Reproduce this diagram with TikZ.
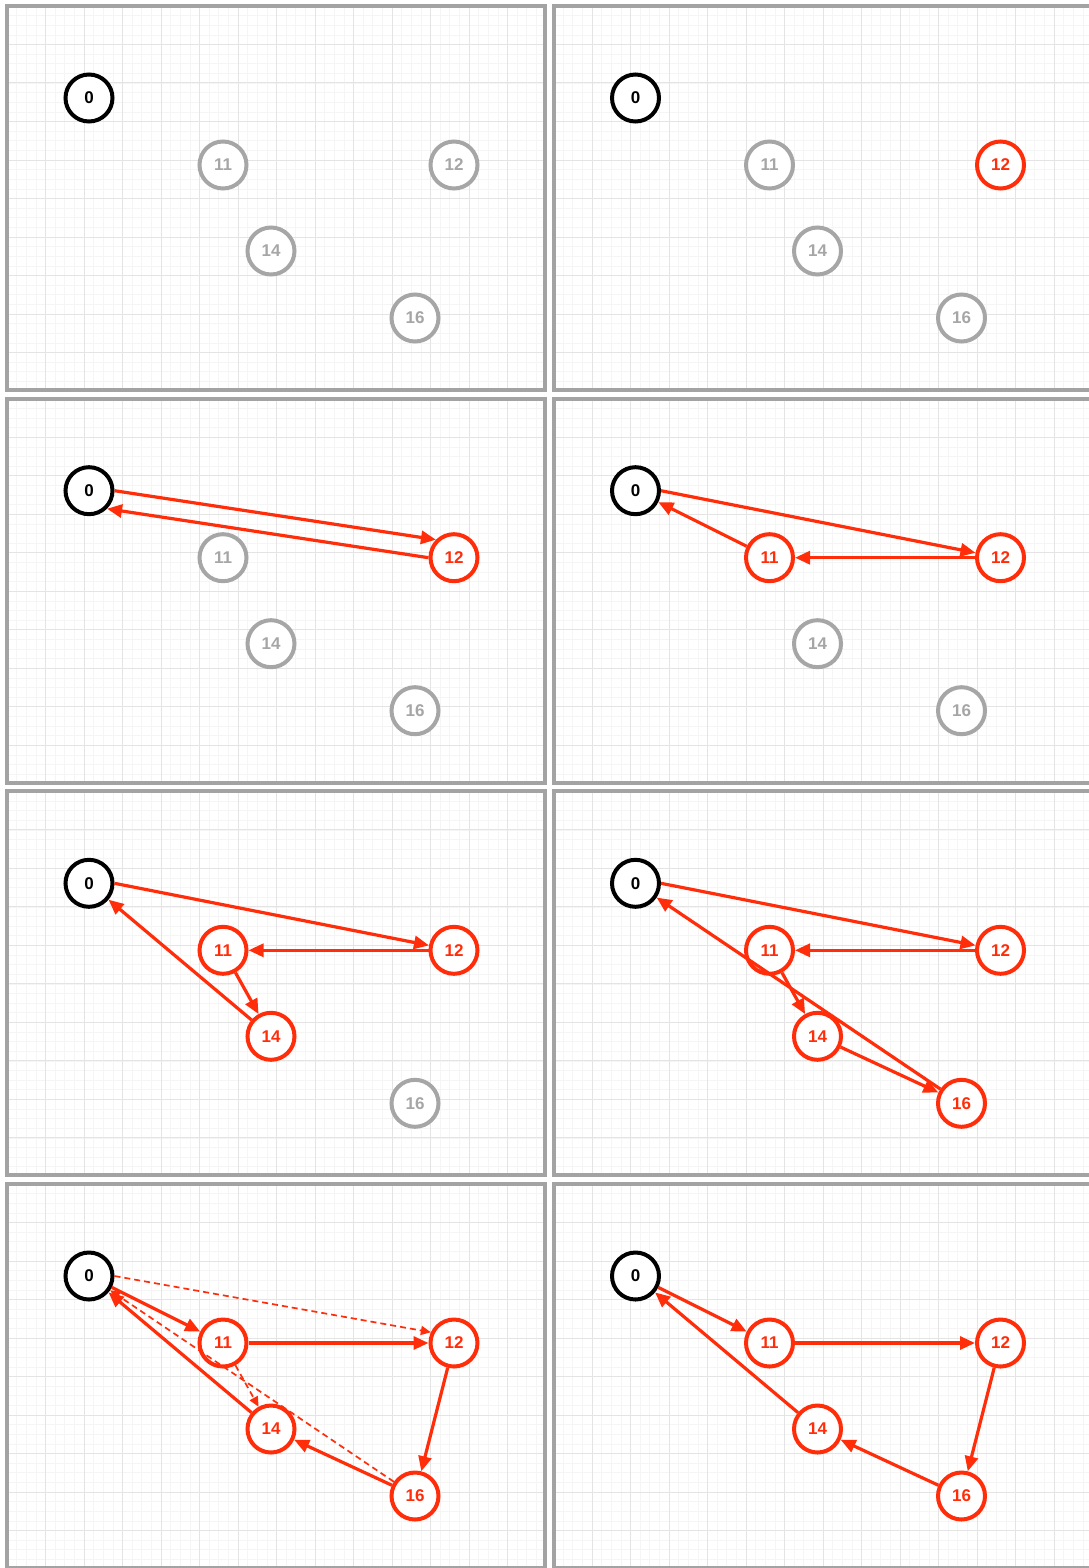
\documentclass[tikz,border=0pt]{standalone}
\usepackage{fontspec}
\setmainfont{Liberation Sans}
\usetikzlibrary{arrows.meta}

\definecolor{hotred}{HTML}{FF2D0A}
\definecolor{idlegray}{HTML}{A6A6A6}
\definecolor{framegray}{HTML}{A3A3A3}
\definecolor{majorgrid}{HTML}{E4E4E4}
\definecolor{minorgrid}{HTML}{F5F5F5}

% the five cities of one panel, one style each
\newcommand{\cities}[5]{%
  \node[city, #1] (n0)  at (82,92)   {0};
  \node[city, #2] (n11) at (216,159) {11};
  \node[city, #3] (n12) at (447,159) {12};
  \node[city, #4] (n14) at (264,245) {14};
  \node[city, #5] (n16) at (408,312) {16};
}

% grid paper and frame of one panel
\newcommand{\sheet}{%
  \fill[white] (0,0) rectangle (538,384);
  \foreach \k in {1,...,55} \draw[minorline] ({\k*9.625},0) -- ({\k*9.625},384);
  \foreach \k in {1,...,39} \draw[minorline] (0,{\k*9.625}) -- (538,{\k*9.625});
  \foreach \k in {1,...,13} \draw[majorline] ({\k*38.5},0) -- ({\k*38.5},384);
  \foreach \k in {1,...,9}  \draw[majorline] (0,{\k*38.5}) -- (538,{\k*38.5});
  \draw[frame] (0,0) rectangle (538,384);
}

\begin{document}
\begin{tikzpicture}[x=1pt, y=-1pt,
    city/.style={circle, draw, fill=white, line width=4pt, minimum size=47pt,
      inner sep=0pt, font=\fontsize{17}{17}\selectfont\bfseries},
    start/.style={draw=black, text=black},
    idle/.style={draw=idlegray, text=idlegray},
    hot/.style={draw=hotred, text=hotred},
    hop/.style={draw=hotred, line width=3.2pt, -{Triangle[length=15pt, width=13pt]}},
    tried/.style={draw=hotred, line width=1.7pt, dash pattern=on 6pt off 4pt,
      -{Triangle[length=10pt, width=9pt]}},
    minorline/.style={draw=minorgrid, line width=0.6pt},
    majorline/.style={draw=majorgrid, line width=1pt},
    frame/.style={draw=framegray, line width=4pt}]

    \useasboundingbox[fill=white] (0,0) rectangle (1088,1568);

    % row 1
    \begin{scope}[shift={(7,6)}, name prefix=a-]
        \sheet
        \cities{start}{idle}{idle}{idle}{idle}
    \end{scope}
    \begin{scope}[shift={(553.5,6)}, name prefix=b-]
        \sheet
        \cities{start}{idle}{hot}{idle}{idle}
    \end{scope}

    % row 2
    \begin{scope}[shift={(7,398.7)}, name prefix=c-]
        \sheet
        \cities{start}{idle}{hot}{idle}{idle}
        \draw[hop] (n0.east) -- (n12.north west);
        \draw[hop] (n12.west) -- (n0.south east);
    \end{scope}
    \begin{scope}[shift={(553.5,398.7)}, name prefix=d-]
        \sheet
        \cities{start}{hot}{hot}{idle}{idle}
        \draw[hop] (n0.east) -- (n12);
        \draw[hop] (n12) -- (n11);
        \draw[hop] (n11) -- (n0);
    \end{scope}

    % row 3
    \begin{scope}[shift={(7,791.3)}, name prefix=e-]
        \sheet
        \cities{start}{hot}{hot}{hot}{idle}
        \draw[hop] (n0.east) -- (n12);
        \draw[hop] (n12) -- (n11);
        \draw[hop] (n11) -- (n14);
        \draw[hop] (n14) -- (n0);
    \end{scope}
    \begin{scope}[shift={(553.5,791.3)}, name prefix=f-]
        \sheet
        \cities{start}{hot}{hot}{hot}{hot}
        \draw[hop] (n0.east) -- (n12);
        \draw[hop] (n12) -- (n11);
        \draw[hop] (n11) -- (n14);
        \draw[hop] (n14) -- (n16);
        \draw[hop] (n16) -- (n0);
    \end{scope}

    % row 4
    \begin{scope}[shift={(7,1184)}, name prefix=g-]
        \sheet
        \cities{start}{hot}{hot}{hot}{hot}
        \draw[tried] (n0.east) -- (n12.155);
        \draw[tried] (n11) -- (n14);
        \draw[tried] (n16) -- (n0);
        \draw[hop] (n0) -- (n11);
        \draw[hop] (n11) -- (n12);
        \draw[hop] (n12) -- (n16);
        \draw[hop] (n16) -- (n14);
        \draw[hop] (n14) -- (n0);
    \end{scope}
    \begin{scope}[shift={(553.5,1184)}, name prefix=h-]
        \sheet
        \cities{start}{hot}{hot}{hot}{hot}
        \draw[hop] (n0) -- (n11);
        \draw[hop] (n11) -- (n12);
        \draw[hop] (n12) -- (n16);
        \draw[hop] (n16) -- (n14);
        \draw[hop] (n14) -- (n0);
    \end{scope}
\end{tikzpicture}
\end{document}
